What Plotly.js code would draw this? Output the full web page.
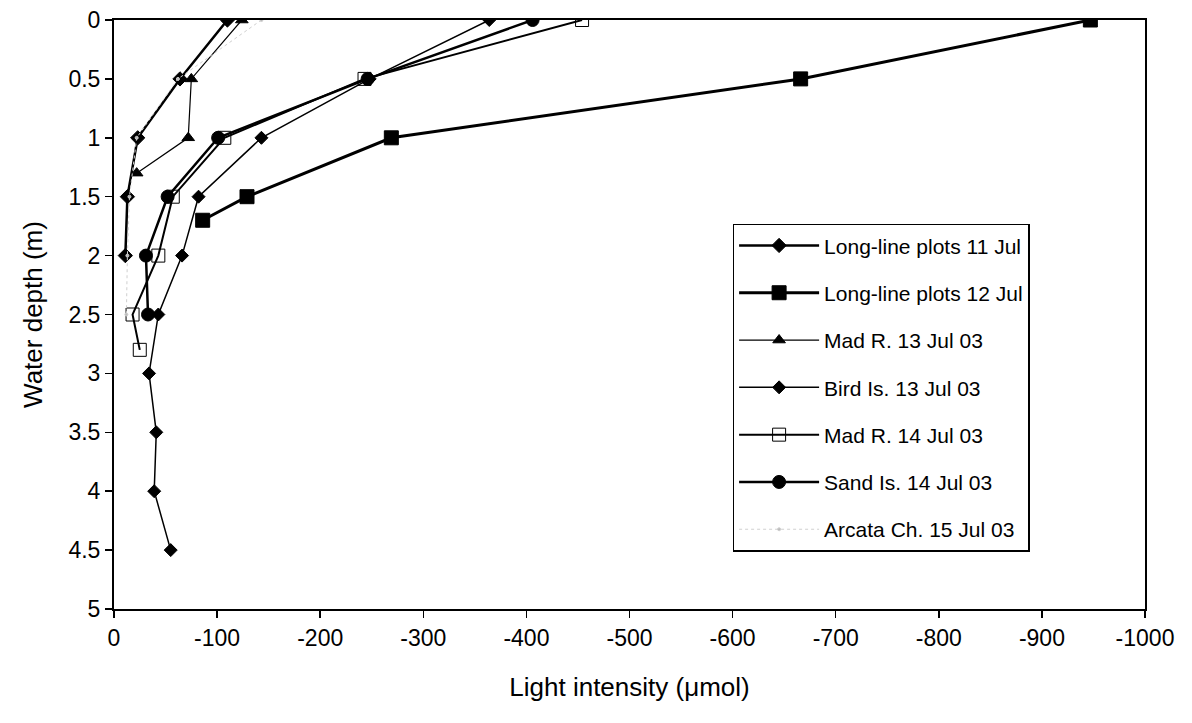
<!DOCTYPE html>
<html>
<head>
<meta charset="utf-8">
<script src="https://cdn.plot.ly/plotly-3.0.1.min.js"></script>
<style>html,body{margin:0;padding:0;background:#fff;}#chart{width:1192px;height:723px;}</style>
</head>
<body>
<div id="chart"></div>
<script>
// Data (light intensity in µmol, depth in m)
const seriesNames = [
  "Long-line plots 11 Jul",
  "Long-line plots 12 Jul",
  "Mad R. 13 Jul 03",
  "Bird Is. 13 Jul 03",
  "Mad R. 14 Jul 03",
  "Sand Is. 14 Jul 03",
  "Arcata Ch. 15 Jul 03"
];
const longLine11Depth = [0, 0.5, 1, 1.5, 2];
const longLine11Light = [-110, -64, -23, -13, -11];
const longLine12Depth = [0, 0.5, 1, 1.5, 1.7];
const longLine12Light = [-947, -666, -269, -129, -86];
const madR13Depth = [0, 0.5, 1, 1.3];
const madR13Light = [-124, -75, -72, -22];
const birdIs13Depth = [0, 0.5, 1, 1.5, 2, 2.5, 3, 3.5, 4, 4.5];
const birdIs13Light = [-364, -248, -143, -82, -66, -43, -34, -41, -39, -55];
const madR14Depth = [0, 0.5, 1, 1.5, 2, 2.5, 2.8];
const madR14Light = [-454, -243, -107, -57, -43, -18, -25];
const sandIs14Depth = [0, 0.5, 1, 1.5, 2, 2.5];
const sandIs14Light = [-406, -246, -101, -52, -31, -33];
const arcata15Depth = [0, 0.5, 1, 1.5, 2, 2.5];
const arcata15Light = [-143, -62, -22, -15, -13, -12];

const xTickVals = [0, -100, -200, -300, -400, -500, -600, -700, -800, -900, -1000];
const xTickText = ["0", "-100", "-200", "-300", "-400", "-500", "-600", "-700", "-800", "-900", "-1000"];
const yTickVals = [0, 0.5, 1, 1.5, 2, 2.5, 3, 3.5, 4, 4.5, 5];
const yTickText = ["0", "0.5", "1", "1.5", "2", "2.5", "3", "3.5", "4", "4.5", "5"];

const FONT = "Liberation Sans, Arial, sans-serif";

function tr(i, x, y, lineW, sym, size, color, lineColor, extra) {
  const t = {
    type: "scatter", mode: "lines+markers", name: seriesNames[i],
    x: x, y: y, legendgroup: "g" + i,
    line: {color: lineColor || "#000", width: lineW},
    marker: {symbol: sym, size: size, color: color || "#000",
             line: {color: lineColor || "#000", width: 1}}
  };
  return Object.assign(t, extra || {});
}

const traces = [
  tr(0, longLine11Light, longLine11Depth, 2.5, "diamond", 11),
  tr(1, longLine12Light, longLine12Depth, 3, "square", 14),
  tr(2, madR13Light, madR13Depth, 1.2, "triangle-up", 11),
  tr(3, birdIs13Light, birdIs13Depth, 1.5, "diamond", 10),
  tr(4, madR14Light, madR14Depth, 2, "square-open", 13, "#000"),
  tr(5, sandIs14Light, sandIs14Depth, 2.5, "circle", 13),
  tr(6, arcata15Light, arcata15Depth, 1, "circle", 3, "#bbb", "#cfcfcf", {line: {color: "#d0d0d0", width: 1, dash: "dot"}})
];

const layout = {
  width: 1192, height: 723,
  margin: {l: 114, r: 47, t: 20, b: 114},
  paper_bgcolor: "#fff", plot_bgcolor: "#fff",
  font: {family: FONT, size: 21, color: "#000"},
  showlegend: true,
  xaxis: {
    range: [0, -1000],
    tickvals: xTickVals, ticktext: xTickText,
    ticks: "outside", ticklen: 7, tickwidth: 1.5, tickcolor: "#000",
    showline: true, linecolor: "#000", linewidth: 2, mirror: true,
    showgrid: false, zeroline: false,
    tickfont: {family: FONT, size: 23},
    title: {text: "Light intensity (μmol)", font: {family: FONT, size: 26}, standoff: 28}
  },
  yaxis: {
    range: [5, 0],
    tickvals: yTickVals, ticktext: yTickText,
    ticks: "outside", ticklen: 7, tickwidth: 1.5, tickcolor: "#000",
    showline: true, linecolor: "#000", linewidth: 2, mirror: true,
    showgrid: false, zeroline: false,
    tickfont: {family: FONT, size: 23},
    title: {text: "Water depth (m)", font: {family: FONT, size: 26}, standoff: 18}
  },
  legend: {
    x: 0.6, xanchor: "left", y: 0.654, yanchor: "top",
    bgcolor: "#fff", bordercolor: "#000", borderwidth: 1.5,
    font: {family: FONT, size: 21},
    traceorder: "grouped", tracegroupgap: 17,
    itemwidth: 80
  }
};

Plotly.newPlot("chart", traces, layout, {displayModeBar: false, staticPlot: true});
</script>
</body>
</html>
